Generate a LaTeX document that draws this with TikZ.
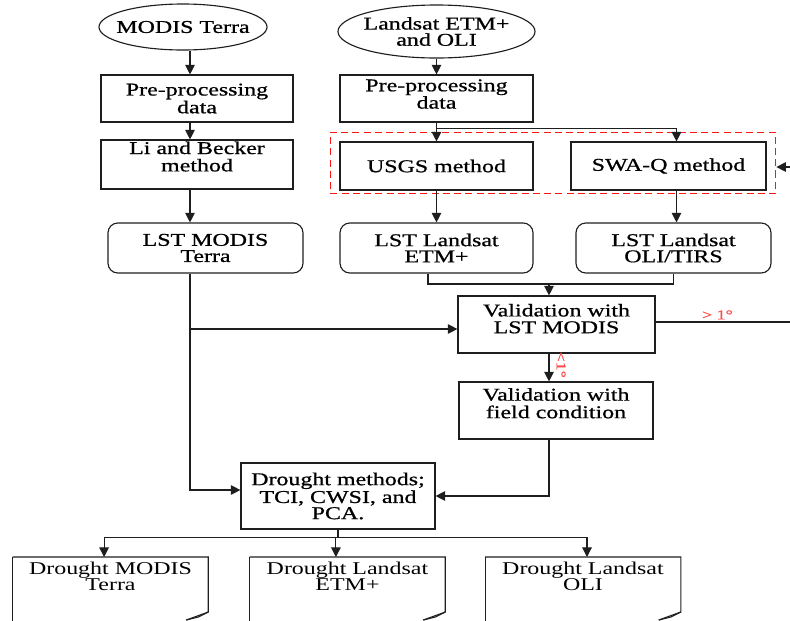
\documentclass[tikz,border=0pt]{standalone}
\usepackage{fontspec}
\setmainfont{Liberation Serif}[FakeStretch=1.33,FakeBold=0.8]
\newfontfamily\docfont{Liberation Serif}[FakeStretch=1.33]
\definecolor{edge}{RGB}{30,30,30}
\definecolor{dashred}{RGB}{255,20,20}
\definecolor{lblred}{RGB}{250,75,75}
\usetikzlibrary{arrows.meta,shapes.geometric,fit}
% lift the lines of a box a little above its middle
\newcommand{\uptext}[2]{\raisebox{#1}[\height][\depth]{\begin{tabular}{@{}c@{}}#2\end{tabular}}}

\begin{document}
\begin{tikzpicture}[x=0.025cm,y=-0.025cm,
      font=\fontsize{12.8}{11.5}\selectfont,
      b/.style={draw=edge,line width=0.8pt,minimum width=4.8cm,
                minimum height=1.175cm,align=center,inner sep=2pt},
      rb/.style={b,rounded corners=7pt,minimum height=1.25cm},
      ell/.style={draw=edge,line width=0.8pt,ellipse,align=center,
                  inner xsep=-8pt,inner ysep=0pt},
      doc/.style={minimum width=4.875cm,align=center,inner ysep=3.5pt,anchor=north,
                  font=\docfont\fontsize{12.8}{11.5}\selectfont},
      ln/.style={draw=edge,line width=0.8pt},
      arr/.style={ln,-{Triangle[length=2.4mm,width=2.4mm]}},
      lbl/.style={text=lblred,font=\fontsize{9.6}{10}\selectfont,inner sep=1.5pt}]
  \useasboundingbox (0,0) rectangle (790,620);
  \clip (0,0) rectangle (790,620);

  % MODIS branch
  \node[ell,minimum width=4.2cm,minimum height=1.15cm] (modis) at (183,27) {MODIS Terra};
  \node[b] (pre1) at (197,98.5) {Pre-processing\\data};
  \node[b,minimum height=1.225cm] (lib) at (197,164.5) {\uptext{4pt}{Li and Becker\\method}};
  \node[rb,minimum width=4.875cm] (lstm) at (205.5,248) {LST MODIS\\Terra};

  % Landsat branch
  \node[ell,minimum width=4.925cm,minimum height=1.325cm] (lsat) at (436.5,31.5) {Landsat ETM+\\and OLI};
  \node[b,minimum width=4.825cm] (pre2) at (436.5,98.5) {\uptext{1.5pt}{Pre-processing\\data}};
  \node[b,minimum width=4.825cm,minimum height=1.2cm] (usgs) at (436.5,166) {USGS method};
  \node[b,minimum width=4.875cm,minimum height=1.2cm] (swaq) at (668.5,166) {SWA-Q method};
  \coordinate (g1) at ([shift={(-0.225cm,0.225cm)}]usgs.north west);
  \coordinate (g2) at ([shift={(0.225cm,-0.075cm)}]swaq.south east);
  \node[draw=dashred,line width=1.1pt,dash pattern=on 5pt off 3pt,inner sep=0pt,
        fit=(g1)(g2)] (grp) {};
  \node[rb,minimum width=4.825cm] (lste) at (436.5,248) {LST Landsat\\ETM+};
  \node[rb,minimum width=4.875cm] (lsto) at (673.5,248) {LST Landsat\\OLI/TIRS};

  % validation and drought
  \node[b,minimum width=4.925cm,minimum height=1.425cm] (vmod) at (556.5,324.5) {\uptext{2.5pt}{Validation with\\LST MODIS}};
  \node[b,minimum width=4.85cm,minimum height=1.425cm] (vfld) at (556,410.5) {\uptext{3.5pt}{Validation with\\field condition}};
  \node[b,minimum width=4.85cm,minimum height=1.65cm] (drm) at (338,496) {Drought methods;\\TCI, CWSI, and\\PCA.};

  \node[doc] (d1) at (110.5,557) {Drought MODIS\\Terra};
  \node[doc] (d2) at (347.5,557) {Drought Landsat\\ETM+};
  \node[doc] (d3) at (583,557) {Drought Landsat\\OLI};
  \foreach \d in {d1,d2,d3} {
    \draw[ln] (\d.north west) -- ++(0,75);
    \draw[ln] (\d.north west) -- (\d.north east) -- ++(0,55) -- ++(-22,8);
    \draw[ln] ([yshift=-1.375cm]\d.north east) -- ++(-10,5) -- ++(-12,3);
  }

  % connectors
  \coordinate (lx) at (190,0);
  \draw[arr] (modis.south -| lx) -- (pre1.north -| lx);
  \draw[arr] (pre1.south -| lx) -- (lib.north -| lx);
  \draw[arr] (lib.south -| lx) -- (lstm.north -| lx);
  \draw[arr] (lstm.south -| lx) |- ([yshift=0.15cm]drm.west);
  \coordinate (tap) at (190,329);
  \draw[arr] (tap) -- (tap -| vmod.west);

  \draw[arr] (lsat) -- (pre2);
  \draw[arr] (pre2) -- (usgs);
  \draw[arr] (pre2.south) ++(0,6) -| ([xshift=0.2cm]swaq.north);
  \coordinate (rin) at (790,167);
  \draw[arr] (rin) -- (rin -| grp.east);
  \draw[arr] (usgs) -- (lste);
  \draw[arr] ([xshift=0.2cm]swaq.south) -- ([xshift=0.2cm]swaq.south |- lsto.north);

  \coordinate (mj) at (549,284);
  \draw[ln] ([xshift=-0.2125cm]lste.south) |- (mj) -| (lsto.south);
  \draw[arr] (mj) -- (mj |- vmod.north);
  \coordinate (rout) at (790,322);
  \draw[ln] (vmod.east |- rout) -- node[lbl,above,pos=0.46] {> 1°} (rout);
  \draw[arr] (mj |- vmod.south) -- node[lbl,rotate=-90,anchor=south,inner sep=5pt,pos=0.4] {<1°} (mj |- vfld.north);
  \draw[arr] (mj |- vfld.south) |- (drm.east);

  \draw[ln] (drm.south) -- ++(0,8) coordinate (dj);
  \draw[arr] (dj) -| ([xshift=-0.16cm]d1.north);
  \draw[arr] (dj) -| ([xshift=-0.29cm]d2.north);
  \draw[arr] (dj) -| ([xshift=0.1cm]d3.north);
\end{tikzpicture}
\end{document}
